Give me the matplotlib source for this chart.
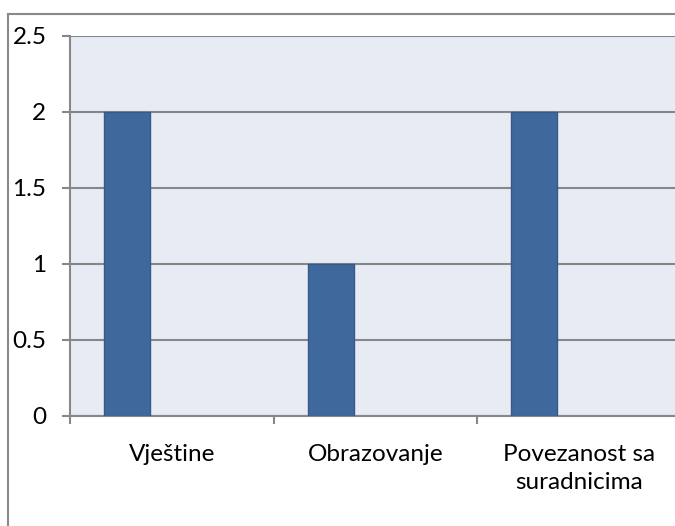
import matplotlib
matplotlib.use("Agg")
import matplotlib.pyplot as plt
from matplotlib.lines import Line2D

categories = ["Vještine", "Obrazovanje", "Povezanost sa\nsuradnicima"]
values = [2, 1, 2]
yticks = [0, 0.5, 1, 1.5, 2, 2.5]
ytick_labels = ["0", "0.5", "1", "1.5", "2", "2.5"]

W, H = 675, 526
fig = plt.figure(figsize=(W / 100, H / 100), dpi=100)
fig.patch.set_facecolor("white")

slot = 203.5
left_px, top_px, bottom_px = 70, 36, 416
ax = fig.add_axes([left_px / W, (H - bottom_px) / H, 3 * slot / W, (bottom_px - top_px) / H])
ax.set_facecolor("#E7EBF4")

bar_w = 46 / slot
offset = (34 + 23) / slot
xs = [i + offset for i in range(len(categories))]
ax.bar(xs, values, width=bar_w, color="#3F689C", edgecolor="#36598A", linewidth=1.0, zorder=3)

ax.set_xlim(0, 3)
ax.set_ylim(0, 2.5)
ax.set_yticks(yticks)
ax.set_yticklabels(ytick_labels)
ax.grid(axis="y", color="#878787", linewidth=1.5, zorder=1)
ax.set_axisbelow(True)

for s in ["top", "right"]:
    ax.spines[s].set_visible(False)
for s in ["left", "bottom"]:
    ax.spines[s].set_color("#878787")
    ax.spines[s].set_linewidth(1.5)

fs = 17.5
font = dict(family="Lato", size=fs)
ax.set_xticks([i + 0.5 for i in range(3)])
ax.set_xticklabels(categories, fontdict=font, linespacing=1.42)
ax.set_xticks([0, 1, 2, 3], minor=True)
ax.tick_params(axis="x", which="major", length=0, pad=20)
ax.tick_params(axis="x", which="minor", length=6, width=1.5, color="#878787", direction="out")
ax.tick_params(axis="y", length=6, width=1.5, color="#878787", pad=11)
for lab in ax.get_yticklabels():
    lab.set_fontfamily("Lato")
    lab.set_fontsize(fs)

# outer chart frame
fig.add_artist(Line2D([8 / W, 8 / W], [0, (H - 14) / H], transform=fig.transFigure, color="#898989", linewidth=1.5))
fig.add_artist(Line2D([8 / W, 1], [(H - 14) / H, (H - 14) / H], transform=fig.transFigure, color="#898989", linewidth=1.5))

fig.savefig("out.png", dpi=100)
